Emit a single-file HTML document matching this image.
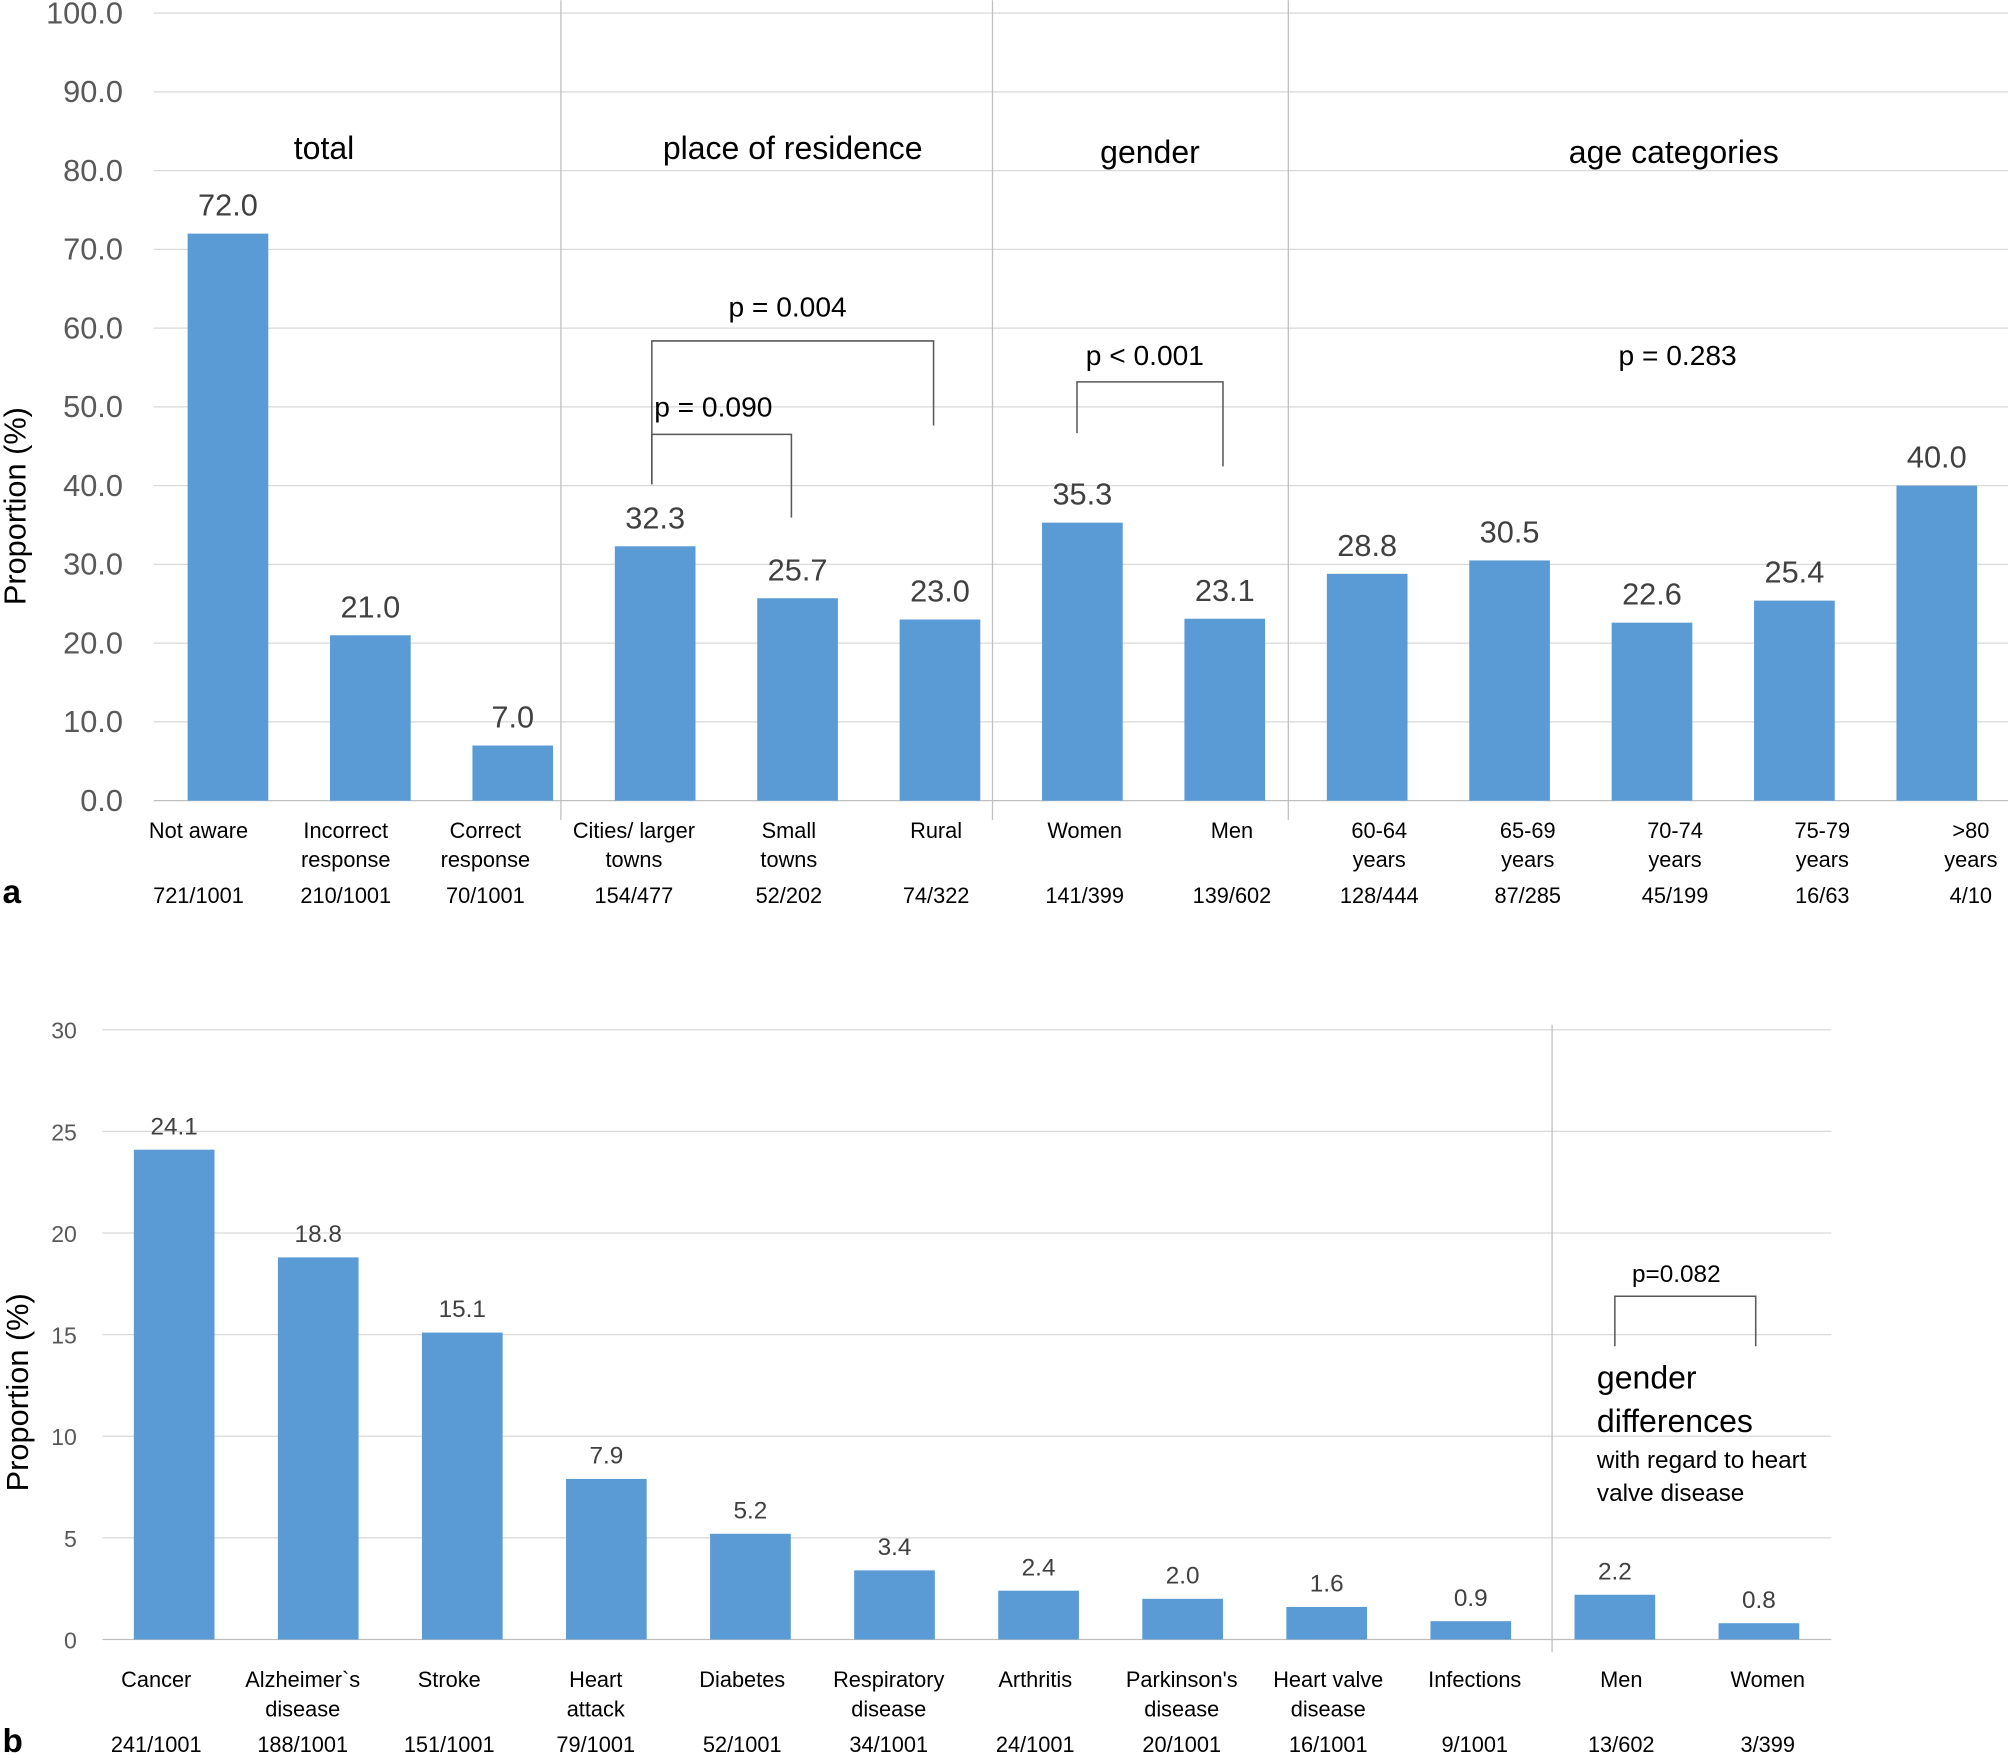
<!DOCTYPE html>
<html><head><meta charset="utf-8">
<style>
html,body{margin:0;padding:0;background:#fff}
svg{display:block}
text{font-family:"Liberation Sans",sans-serif}
</style></head>
<body>
<svg id="chart" xmlns="http://www.w3.org/2000/svg" width="2008" height="1755" viewBox="0 0 1568 1370">
<g id="ga"></g>
<g id="gb"></g>
</svg>
<script>
// ---- Chart a data ----
const aCats1 = ["Not aware","Incorrect","Correct","Cities/ larger","Small","Rural","Women","Men","60-64","65-69","70-74","75-79",">80"];
const aCats2 = ["","response","response","towns","towns","","","","years","years","years","years","years"];
const aCounts = ["721/1001","210/1001","70/1001","154/477","52/202","74/322","141/399","139/602","128/444","87/285","45/199","16/63","4/10"];
const aValues = [72.0,21.0,7.0,32.3,25.7,23.0,35.3,23.1,28.8,30.5,22.6,25.4,40.0];
const aTicks = [0,10,20,30,40,50,60,70,80,90,100];
// ---- Chart b data ----
const bCats1 = ["Cancer","Alzheimer`s","Stroke","Heart","Diabetes","Respiratory","Arthritis","Parkinson's","Heart valve","Infections","Men","Women"];
const bCats2 = ["","disease","","attack","","disease","","disease","disease","","",""];
const bCounts = ["241/1001","188/1001","151/1001","79/1001","52/1001","34/1001","24/1001","20/1001","16/1001","9/1001","13/602","3/399"];
const bValues = [24.1,18.8,15.1,7.9,5.2,3.4,2.4,2.0,1.6,0.9,2.2,0.8];
const bTicks = [0,5,10,15,20,25,30];

const NS="http://www.w3.org/2000/svg";
function mk(parent,tag,attrs,txt){const e=document.createElementNS(NS,tag);for(const k in attrs)e.setAttribute(k,attrs[k]);if(txt!==undefined)e.textContent=txt;parent.appendChild(e);return e;}
const BAR="#5B9BD5";

// ===== Chart a =====
const ga=document.getElementById('ga');
const ya=v=>625-v*6.15;
const xa=i=>178+i*111.2;
const aLabelPos=[155,270,379,495,616,731,847,962,1077,1193,1308,1423,1539];
const xla=i=>aLabelPos[i];
aTicks.forEach(t=>{
  const l=mk(ga,'line',{x1:120,x2:1568,y1:ya(t),y2:ya(t),stroke:t===0?'#bfbfbf':'#d9d9d9','stroke-width':1});
  
  
  const tx=mk(ga,'text',{x:96,y:ya(t)+8,'text-anchor':'end','font-size':24,fill:'#595959'},t.toFixed(1));
  
  
});
[438,775,1006].forEach(x=>{
  const l=mk(ga,'line',{x1:x,x2:x,y1:0,y2:640,stroke:'#bfbfbf','stroke-width':1});
  
  
});
aValues.forEach((v,i)=>{
  const r=mk(ga,'rect',{x:xa(i)-31.5,y:ya(v),width:63,height:625-ya(v),fill:BAR});
  
  
  const t=mk(ga,'text',{x:xa(i),y:ya(v)-14,'text-anchor':'middle','font-size':24,fill:'#404040'},v.toFixed(1));
  
  
  const c1=mk(ga,'text',{x:xla(i),y:654,'text-anchor':'middle','font-size':17,fill:'#000'},aCats1[i]);
  
  
  if(aCats2[i]){const c2=mk(ga,'text',{x:xla(i),y:677,'text-anchor':'middle','font-size':17,fill:'#000'},aCats2[i]);
  
  }
  const c3=mk(ga,'text',{x:xla(i),y:705,'text-anchor':'middle','font-size':17,fill:'#000'},aCounts[i]);
  
  
});
[["total",253,124],["place of residence",619,124],["gender",898,127],["age categories",1307,127]].forEach(g=>{
  const t=mk(ga,'text',{x:g[1],y:g[2],'text-anchor':'middle','font-size':25,fill:'#000'},g[0]);
  
  
});
function bracket(p,pts,label,lx,ly,fs){
  const pl=mk(p,'polyline',{points:pts,fill:'none',stroke:'#595959','stroke-width':1.2});
  
  
  const t=mk(p,'text',{x:lx,y:ly,'text-anchor':'middle','font-size':fs,fill:'#000'},label);
  
  
}
bracket(ga,"509,378 509,266 729,266 729,332","p = 0.004",615,247,22);
bracket(ga,"509,378 509,339 618,339 618,404","p = 0.090",557,325,22);
bracket(ga,"841,338 841,298 955,298 955,364","p < 0.001",894,285,22);
{const t=mk(ga,'text',{x:1310,y:285,'text-anchor':'middle','font-size':22,fill:'#000'},"p = 0.283");

}
{const t=mk(ga,'text',{x:0,y:0,'text-anchor':'middle','font-size':24,fill:'#000',transform:'translate(20,395) rotate(-90)'},"Proportion (%)");


const a=mk(ga,'text',{x:2,y:705,'font-size':26,'font-weight':'bold',fill:'#000'},"a");

}

// ===== Chart b =====
const gb=document.getElementById('gb');
const yb=v=>1280-v*15.87;
const xb=i=>136+i*112.5;
const xlb=i=>122+i*114.4;
bTicks.forEach(t=>{
  const l=mk(gb,'line',{x1:80,x2:1430,y1:yb(t),y2:yb(t),stroke:t===0?'#bfbfbf':'#d9d9d9','stroke-width':1});
  
  
  const tx=mk(gb,'text',{x:60,y:yb(t)+7,'text-anchor':'end','font-size':18,fill:'#595959'},String(t));
  
  
});
{const l=mk(gb,'line',{x1:1212,x2:1212,y1:800,y2:1290,stroke:'#bfbfbf','stroke-width':1});

}
bValues.forEach((v,i)=>{
  const r=mk(gb,'rect',{x:xb(i)-31.5,y:yb(v),width:63,height:1280-yb(v),fill:BAR});
  
  
  const t=mk(gb,'text',{x:xb(i),y:yb(v)-12,'text-anchor':'middle','font-size':19,fill:'#404040'},v.toFixed(1));
  
  
  const c1=mk(gb,'text',{x:xlb(i),y:1317,'text-anchor':'middle','font-size':17,fill:'#000'},bCats1[i]);
  
  
  if(bCats2[i]){const c2=mk(gb,'text',{x:xlb(i),y:1340,'text-anchor':'middle','font-size':17,fill:'#000'},bCats2[i]);
  
  }
  const c3=mk(gb,'text',{x:xlb(i),y:1368,'text-anchor':'middle','font-size':17,fill:'#000'},bCounts[i]);
  
  
});
bracket(gb,"1261,1051 1261,1012 1371,1012 1371,1051","p=0.082",1309,1001,19);
[["gender",1247,1084,25],["differences",1247,1118,25],["with regard to heart",1247,1146,19],["valve disease",1247,1172,19]].forEach(g=>{
  const t=mk(gb,'text',{x:g[1],y:g[2],'font-size':g[3],fill:'#000'},g[0]);
  
  
});
{const t=mk(gb,'text',{x:0,y:0,'text-anchor':'middle','font-size':24,fill:'#000',transform:'translate(22,1087) rotate(-90)'},"Proportion (%)");


const b=mk(gb,'text',{x:2,y:1368,'font-size':26,'font-weight':'bold',fill:'#000'},"b");

}
</script>
</body></html>
